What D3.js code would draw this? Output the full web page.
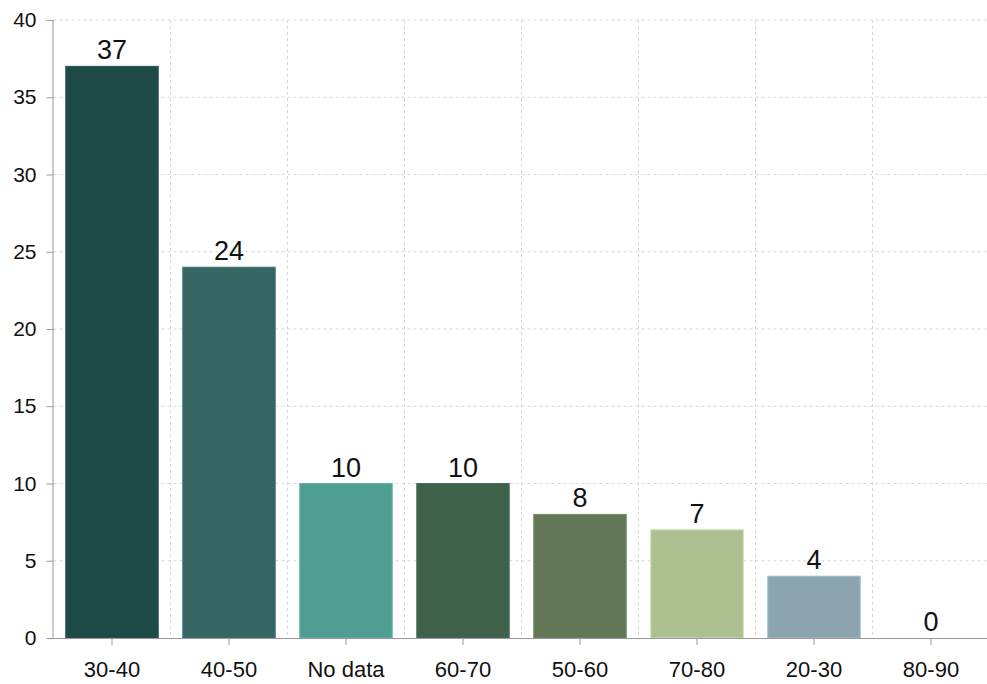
<!DOCTYPE html>
<html>
<head>
<meta charset="utf-8">
<script src="https://cdn.jsdelivr.net/npm/d3@7"></script>
<style>
  html, body { margin: 0; padding: 0; background: #fff; }
  svg { display: block; font-family: "Liberation Sans", Arial, sans-serif; }
</style>
</head>
<body>
<svg id="chart" width="987" height="684"></svg>
<script>
// Counts per age group
const categories = ["30-40", "40-50", "No data", "60-70", "50-60", "70-80", "20-30", "80-90"];
const values = [37, 24, 10, 10, 8, 7, 4, 0];
const colors = ["#1e4a48", "#356663", "#4f9e91", "#3f614c", "#637656", "#adc190", "#8ba4b0", "#9fb8a8"];
const yTicks = [0, 5, 10, 15, 20, 25, 30, 35, 40];

const svg = d3.select("#chart");
const margin = { left: 53.5, top: 20, bottom: 46, right: 0 };
const W = 987, H = 684;
const plotBottom = H - margin.bottom;

const x = d3.scaleBand()
  .domain(categories)
  .range([margin.left, margin.left + 117 * categories.length])
  .paddingInner(0.21)
  .paddingOuter(0.105);

const y = d3.scaleLinear().domain([0, 40]).range([plotBottom, margin.top]);

// Grid: horizontal at y ticks, vertical at band boundaries
const grid = svg.append("g").attr("stroke", "#d6d6d6").attr("stroke-dasharray", "3,3").attr("stroke-width", 1);
yTicks.filter(t => t > 0).forEach(t => {
  grid.append("line").attr("x1", margin.left).attr("x2", W).attr("y1", y(t)).attr("y2", y(t));
});
const step = x.step();
categories.forEach((c, i) => {
  const bx = margin.left + step * (i + 1);
  if (bx < W) grid.append("line").attr("x1", bx).attr("x2", bx).attr("y1", margin.top).attr("y2", plotBottom);
});

// Bars
svg.append("g").selectAll("rect").data(categories).join("rect")
  .attr("x", d => x(d))
  .attr("width", x.bandwidth())
  .attr("y", (d, i) => y(values[i]))
  .attr("height", (d, i) => plotBottom - y(values[i]))
  .attr("fill", (d, i) => colors[i])
  .attr("stroke", (d, i) => values[i] > 0 ? d3.color(colors[i]).brighter(0.4) : "none")
  .attr("stroke-width", 1);

// Value labels
svg.append("g").selectAll("text").data(categories).join("text")
  .attr("x", d => x(d) + x.bandwidth() / 2)
  .attr("y", (d, i) => y(values[i]) - 7)
  .attr("text-anchor", "middle")
  .attr("font-size", 27)
  .attr("fill", "#111")
  .text((d, i) => values[i]);

// Y axis
const yAxis = svg.append("g")
  .attr("transform", `translate(${margin.left},0)`)
  .call(d3.axisLeft(y).tickValues(yTicks).tickSize(7).tickPadding(10));
yAxis.select(".domain").attr("stroke", "#999").attr("d", `M-0.5,${margin.top}V${plotBottom}`);
yAxis.selectAll(".tick line").attr("stroke", "#999");
yAxis.selectAll(".tick text").attr("font-size", 21).attr("fill", "#111").attr("font-family", "Liberation Sans, Arial, sans-serif");

// X axis
const xAxis = svg.append("g")
  .attr("transform", `translate(0,${plotBottom})`)
  .call(d3.axisBottom(x).tickSize(7).tickPadding(16));
xAxis.select(".domain").attr("stroke", "#999").attr("d", `M${margin.left},0.5H${W}`);
xAxis.selectAll(".tick line").attr("stroke", "#999");
xAxis.selectAll(".tick text").attr("font-size", 22).attr("fill", "#111").attr("font-family", "Liberation Sans, Arial, sans-serif");
</script>
</body>
</html>
